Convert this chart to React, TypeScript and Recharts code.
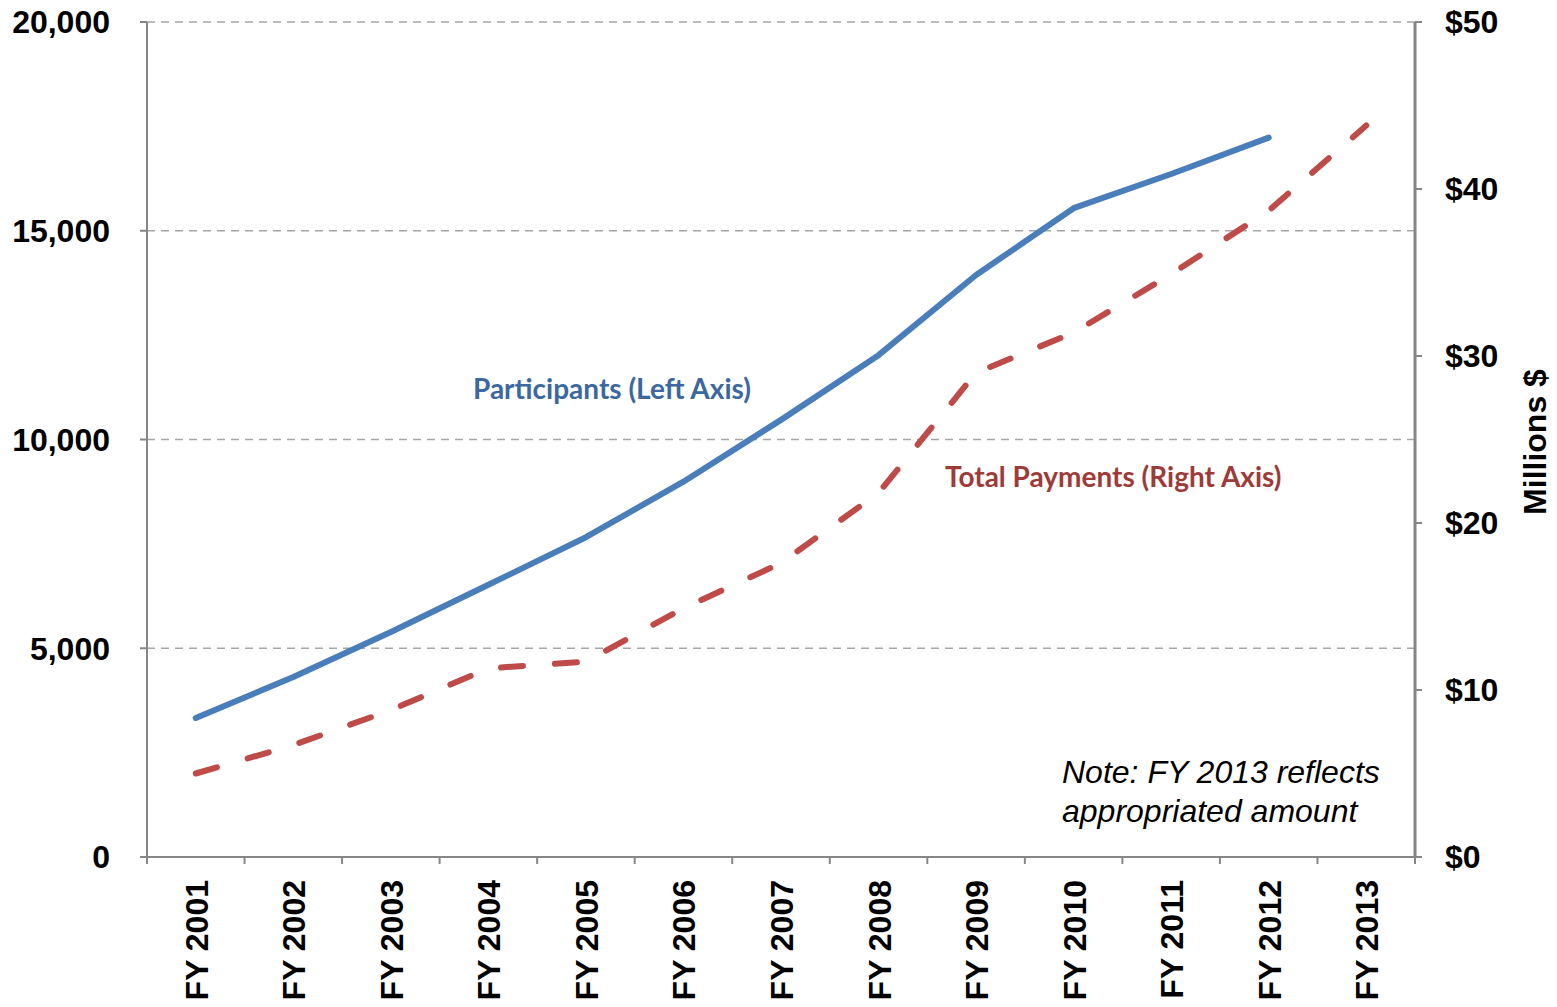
import React from "react";
import {
  LineChart,
  Line,
  XAxis,
  YAxis,
  CartesianGrid,
} from "recharts";

const categories = [
  "FY 2001",
  "FY 2002",
  "FY 2003",
  "FY 2004",
  "FY 2005",
  "FY 2006",
  "FY 2007",
  "FY 2008",
  "FY 2009",
  "FY 2010",
  "FY 2011",
  "FY 2012",
  "FY 2013",
];

// participants, left axis
const participants = [
  3330, 4310, 5390, 6520, 7660, 8990, 10470, 12020, 13940, 15540, 16360, 17230,
  null,
];

// total payments in millions $, right axis
const payments = [
  5.0, 6.7, 8.8, 11.3, 11.7, 14.9, 17.6, 21.8, 29.0, 31.4, 34.9, 38.7, 43.8,
];

const leftTicks = [0, 5000, 10000, 15000, 20000];
const rightTicks = [0, 10, 20, 30, 40, 50];

const data = categories.map((name, i) => ({
  name,
  participants: participants[i],
  payments: payments[i],
}));

const AXIS = "#868686";
const ARIAL = "'Liberation Sans', Arial, sans-serif";

const tickStyle = {
  fill: "#000",
  fontSize: 32,
  fontWeight: 700,
  fontFamily: ARIAL,
};

// category label centred in its band, tick marks on band edges
const XTick = (props: any) => {
  const { x, y, payload, index } = props;
  const half = payload && payload.offset ? payload.offset : 0;
  const top = y - 23;
  return (
    <g>
      <line x1={x - half} x2={x - half} y1={top} y2={top + 7} stroke={AXIS} strokeWidth={2} />
      {index === categories.length - 1 && (
        <line x1={x + half} x2={x + half} y1={top} y2={top + 7} stroke={AXIS} strokeWidth={2} />
      )}
      <text
        transform={`translate(${x + 1},${y}) rotate(-90)`}
        textAnchor="end"
        dominantBaseline="central"
        style={tickStyle}
        fill="#000"
      >
        {payload.value}
      </text>
    </g>
  );
};

const App: React.FC = () => {
  return (
    <div
      style={{
        position: "absolute",
        left: 0,
        top: 0,
        width: 1557,
        height: 1007,
        background: "#fff",
      }}
    >
      <LineChart
        width={1557}
        height={1007}
        data={data}
        margin={{ top: 22, right: 12, bottom: 10, left: 10 }}
      >
        <CartesianGrid
          yAxisId="left"
          vertical={false}
          stroke="#A6A6A6"
          strokeWidth={1.5}
          strokeDasharray="8 6"
        />
        <XAxis
          dataKey="name"
          scale="band"
          height={140}
          interval={0}
          tickLine={false}
          tickSize={7}
          tickMargin={16}
          axisLine={{ stroke: AXIS, strokeWidth: 2 }}
          tick={<XTick />}
        />
        <YAxis
          yAxisId="left"
          width={137}
          domain={[0, 20000]}
          ticks={leftTicks}
          interval={0}
          tickFormatter={(v: number) => v.toLocaleString("en-US")}
          tick={tickStyle}
          tickSize={7}
          tickMargin={30}
          tickLine={{ stroke: AXIS, strokeWidth: 2 }}
          axisLine={{ stroke: AXIS, strokeWidth: 2 }}
        />
        <YAxis
          yAxisId="right"
          orientation="right"
          width={130}
          domain={[0, 50]}
          ticks={rightTicks}
          interval={0}
          tickFormatter={(v: number) => `$${v}`}
          tick={{ ...tickStyle, textAnchor: "start" }}
          tickSize={7}
          tickMargin={23}
          tickLine={{ stroke: AXIS, strokeWidth: 2 }}
          axisLine={{ stroke: AXIS, strokeWidth: 3 }}
        />
        <Line
          yAxisId="left"
          type="linear"
          dataKey="participants"
          stroke="#4A7EBB"
          strokeWidth={6}
          strokeLinecap="round"
          strokeLinejoin="round"
          dot={false}
          activeDot={false}
          isAnimationActive={false}
        />
        <Line
          yAxisId="right"
          type="linear"
          dataKey="payments"
          stroke="#BE4B48"
          strokeWidth={6}
          strokeDasharray="22 32"
          strokeLinecap="round"
          strokeLinejoin="round"
          dot={false}
          activeDot={false}
          isAnimationActive={false}
        />
      </LineChart>

      <div
        style={{
          position: "absolute",
          left: 473,
          top: 370,
          fontFamily: "Lato, sans-serif",
          fontWeight: 700,
          fontSize: 28,
          color: "#3B68A0",
          whiteSpace: "nowrap",
          lineHeight: "36px",
        }}
      >
        Participants (Left Axis)
      </div>
      <div
        style={{
          position: "absolute",
          left: 945,
          top: 458,
          fontFamily: "Lato, sans-serif",
          fontWeight: 700,
          fontSize: 28,
          color: "#9E3B38",
          whiteSpace: "nowrap",
          lineHeight: "36px",
        }}
      >
        Total Payments (Right Axis)
      </div>
      <div
        style={{
          position: "absolute",
          left: 1062,
          top: 753,
          fontFamily: ARIAL,
          fontStyle: "italic",
          fontSize: 32,
          lineHeight: "39px",
          color: "#000",
          whiteSpace: "nowrap",
        }}
      >
        Note: FY 2013 reflects
        <br />
        appropriated amount
      </div>
      <div
        style={{
          position: "absolute",
          left: 1535,
          top: 442,
          transform: "translate(-50%, -50%) rotate(-90deg)",
          fontFamily: ARIAL,
          fontWeight: 700,
          fontSize: 32,
          color: "#000",
          whiteSpace: "nowrap",
        }}
      >
        Millions $
      </div>
    </div>
  );
};

export default App;
